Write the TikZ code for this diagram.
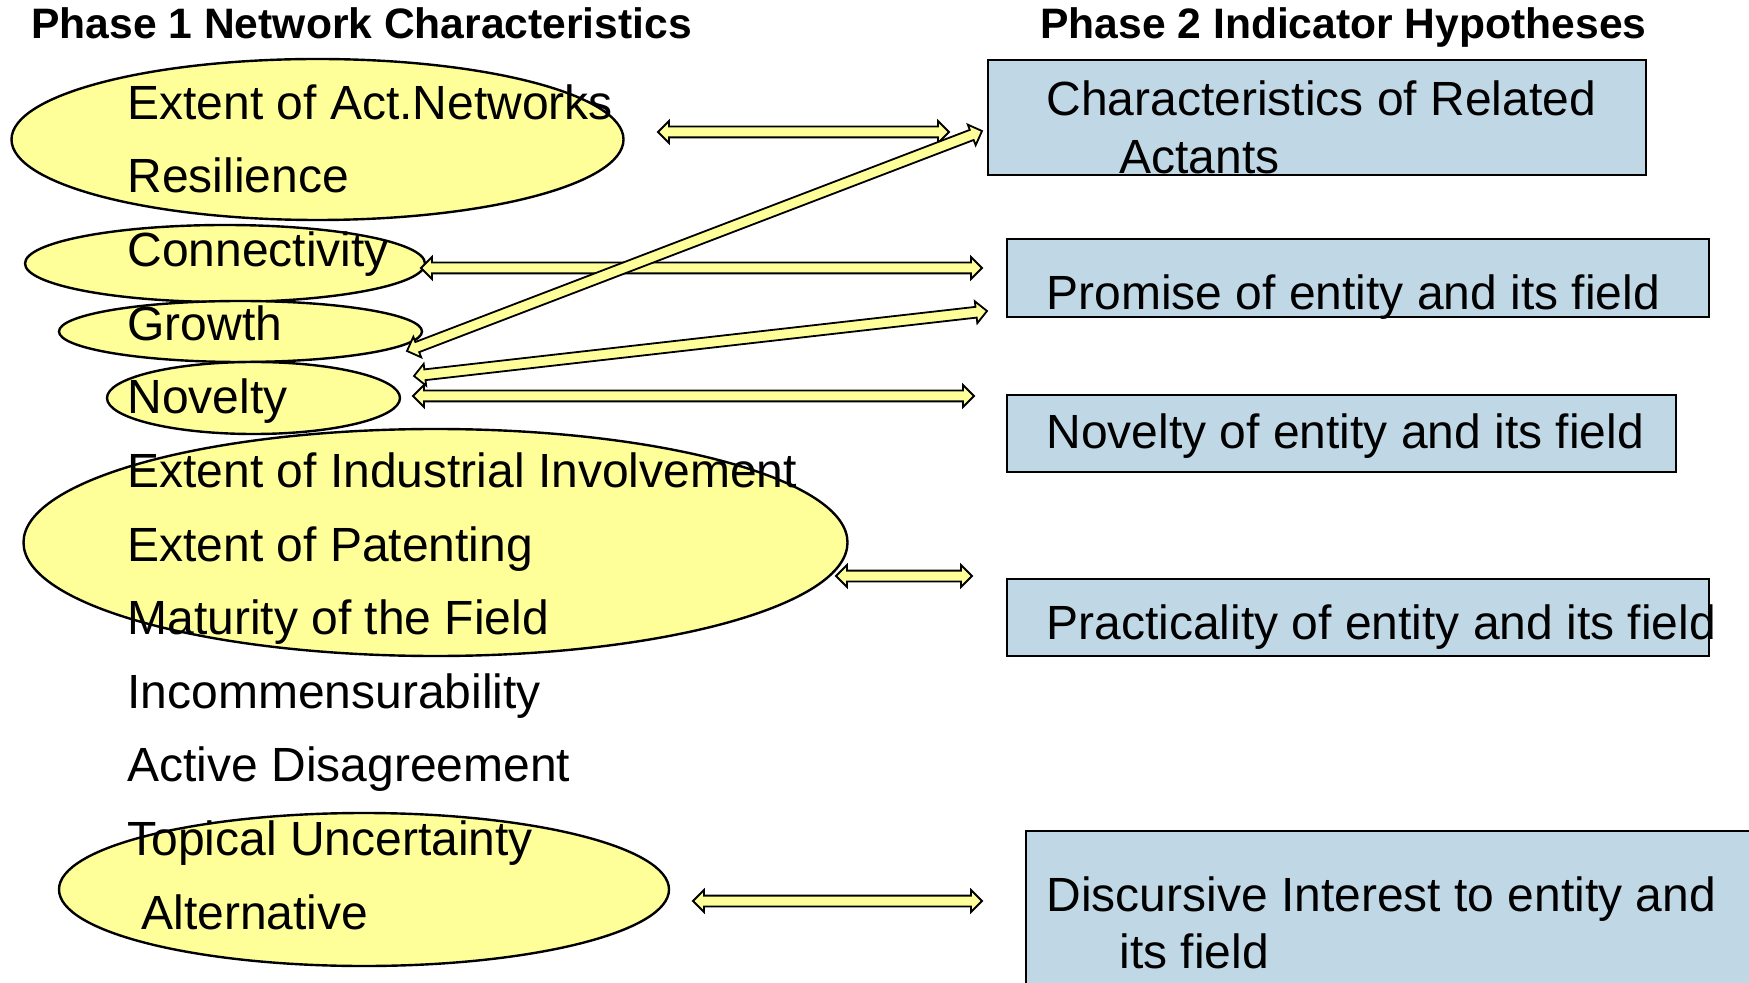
\documentclass[tikz,border=0pt]{standalone}
\usepackage{fontspec}
\setmainfont{Liberation Sans}
\usetikzlibrary{calc,shapes.geometric}
\definecolor{ellfill}{RGB}{255,255,153}
\definecolor{boxfill}{RGB}{192,216,230}
\newcommand\blockarrow[2]{%
  \coordinate (ba1) at ($(#1)!5.5pt!(#2)$);
  \coordinate (ba2) at ($(#2)!5.5pt!(#1)$);
  \filldraw[barrow] (#1) -- ($(ba1)!5.5pt!90:(#2)$) -- ($(ba1)!2.7pt!90:(#2)$)
    -- ($(ba2)!2.7pt!-90:(#1)$) -- ($(ba2)!5.5pt!-90:(#1)$) -- (#2)
    -- ($(ba2)!5.5pt!90:(#1)$) -- ($(ba2)!2.7pt!90:(#1)$)
    -- ($(ba1)!2.7pt!-90:(#2)$) -- ($(ba1)!5.5pt!-90:(#2)$) -- cycle;}
\begin{document}
\begin{tikzpicture}[x=0.5pt,y=-0.5pt,
  ell/.style={ellipse, draw=black, line width=1.2pt, fill=ellfill, inner sep=0pt},
  hyp/.style={rectangle, draw=black, line width=0.9pt, fill=boxfill, inner sep=0pt},
  lbl/.style={anchor=base west, inner sep=0pt, font=\fontsize{24}{29}\selectfont},
  ttl/.style={anchor=base west, inner sep=0pt, font=\fontsize{21.3}{25}\selectfont\bfseries},
  barrow/.style={draw=black, line width=0.9pt, fill=ellfill, line join=miter}]
\useasboundingbox (0,0) rectangle (1749,983);
\fill[white] (0,0) rectangle (1749,983);
% titles
\node[ttl] (t1) at (31,39) {Phase 1 Network Characteristics};
\node[ttl] (t2) at (1040,39) {Phase 2 Indicator Hypotheses};
% ellipses
\node[ell, minimum width=306pt, minimum height=80.5pt] (e1) at (317.5,139.5) {};
\node[ell, minimum width=200pt, minimum height=38.5pt] (e2) at (225,263.5) {};
\node[ell, minimum width=181.5pt, minimum height=30.5pt] (e3) at (240.5,331.5) {};
\node[ell, minimum width=146.5pt, minimum height=36pt] (e4) at (253.5,398) {};
\node[ell, minimum width=412pt, minimum height=113.5pt] (e5) at (435.5,542.5) {};
\node[ell, minimum width=305pt, minimum height=76.5pt] (e6) at (364,889.5) {};
% boxes
\node[hyp, minimum width=329pt, minimum height=57.5pt] (bA) at (1317,117.5) {};
\node[hyp, minimum width=351pt, minimum height=39pt] (bB) at (1358,278) {};
\node[hyp, minimum width=334.5pt, minimum height=38.5pt] (bC) at (1341.5,433.5) {};
\node[hyp, minimum width=351pt, minimum height=38.5pt] (bD) at (1358,617.5) {};
\node[hyp, minimum width=372pt, minimum height=84.5pt] (bE) at (1398,915.5) {};
% left labels
\node[lbl] (l1) at (127,119.3) {Extent of Act.Networks};
\node[lbl] (l2) at (127,192.9) {Resilience};
\node[lbl] (l3) at (127,266.6) {Connectivity};
\node[lbl] (l4) at (127,340.2) {Growth};
\node[lbl] (l5) at (127,413.8) {Novelty};
\node[lbl] (l6) at (127,487.4) {Extent of Industrial Involvement};
\node[lbl] (l7) at (127,561.0) {Extent of Patenting};
\node[lbl] (l8) at (127,634.6) {Maturity of the Field};
\node[lbl] (l9) at (127,708.2) {Incommensurability};
\node[lbl] (l10) at (127,781.8) {Active Disagreement};
\node[lbl] (l11) at (127,855.4) {Topical Uncertainty};
\node[lbl] (l12) at (141,929.0) {Alternative};
% box labels
\node[lbl] (r1) at (1046,116) {Characteristics of Related};
\node[lbl] (r1b) at (1119,174) {Actants};
\node[lbl] (r2) at (1046,310) {Promise of entity and its field};
\node[lbl] (r3) at (1046,449) {Novelty of entity and its field};
\node[lbl] (r4) at (1046,639) {Practicality of entity and its field};
\node[lbl] (r5) at (1046,911) {Discursive Interest to entity and};
\node[lbl] (r5b) at (1119,968) {its field};
% arrow end points
\coordinate (a1l) at (658,132);  \coordinate (a1r) at (949,132);
\coordinate (a2l) at (407,351);  \coordinate (a2r) at (982,131);
\coordinate (a3l) at (421,268);  \coordinate (a3r) at (982,268);
\coordinate (a4l) at (414,376);  \coordinate (a4r) at (987,311);
\coordinate (a5l) at (413,396);  \coordinate (a5r) at (974,396);
\coordinate (a6l) at (836,576);  \coordinate (a6r) at (972,576);
\coordinate (a7l) at (693,901);  \coordinate (a7r) at (982,901);
\blockarrow{a1l}{a1r}
\blockarrow{a3l}{a3r}
\blockarrow{a2l}{a2r}
\blockarrow{a4l}{a4r}
\blockarrow{a5l}{a5r}
\blockarrow{a6l}{a6r}
\blockarrow{a7l}{a7r}
\end{tikzpicture}
\end{document}
